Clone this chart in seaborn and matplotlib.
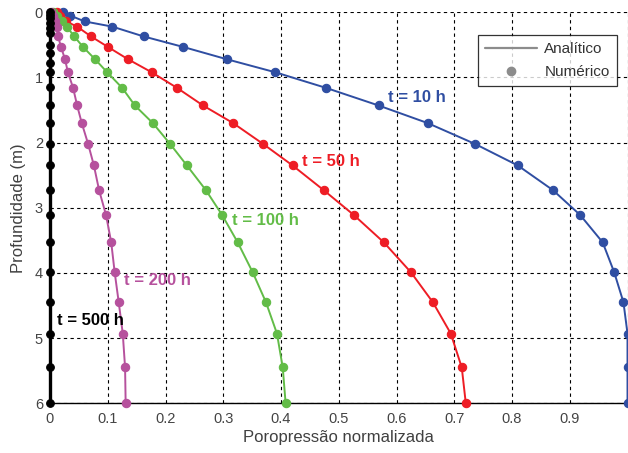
import numpy as np
import pandas as pd
import matplotlib
matplotlib.use("Agg")
import matplotlib.pyplot as plt
from matplotlib.lines import Line2D
import seaborn as sns

# ---- data ----
depth = [0.0, 0.05, 0.14, 0.22, 0.37, 0.53, 0.72, 0.92, 1.16, 1.43, 1.70,
         2.02, 2.35, 2.73, 3.11, 3.53, 3.99, 4.45, 4.93, 5.45, 6.0]
p_10h = [0.022, 0.035, 0.060, 0.108, 0.162, 0.230, 0.306, 0.390, 0.478, 0.569, 0.654,
         0.736, 0.810, 0.871, 0.918, 0.957, 0.977, 0.993, 1.000, 1.000, 1.000]
p_50h = [0.012, 0.018, 0.028, 0.047, 0.071, 0.100, 0.135, 0.176, 0.220, 0.265, 0.317,
         0.369, 0.420, 0.474, 0.526, 0.578, 0.625, 0.663, 0.694, 0.713, 0.720]
p_100h = [0.006, 0.012, 0.020, 0.029, 0.042, 0.057, 0.078, 0.099, 0.125, 0.147, 0.178,
          0.208, 0.237, 0.270, 0.298, 0.325, 0.351, 0.374, 0.393, 0.403, 0.408]
p_200h = [0.002, 0.005, 0.009, 0.012, 0.014, 0.019, 0.026, 0.031, 0.040, 0.047, 0.055,
          0.066, 0.076, 0.085, 0.097, 0.106, 0.112, 0.119, 0.126, 0.130, 0.131]
depth_500h = [0.0, 0.04, 0.09, 0.17, 0.24, 0.32, 0.5, 0.62, 0.78, 0.92, 1.15, 1.43,
              1.7, 2.02, 2.35, 2.73, 3.11, 3.53, 3.99, 4.45, 4.93, 5.45, 6.0]
p_500h = [0.0] * len(depth_500h)

labels = ["t = 10 h", "t = 50 h", "t = 100 h", "t = 200 h", "t = 500 h"]
colors = ["#2F4EA2", "#EE1D25", "#62BC47", "#B6519D", "#000000"]
label_pos = [(0.585, 1.30), (0.436, 2.29), (0.315, 3.20), (0.128, 4.12), (0.012, 4.73)]
xticks = [0, 0.1, 0.2, 0.3, 0.4, 0.5, 0.6, 0.7, 0.8, 0.9, 1.0]
xticklabels = ["0", "0.1", "0.2", "0.3", "0.4", "0.5", "0.6", "0.7", "0.8", "0.9", ""]
yticks = [0, 1, 2, 3, 4, 5, 6]

series = [(depth, p_10h), (depth, p_50h), (depth, p_100h), (depth, p_200h), (depth_500h, p_500h)]

sns.set_theme(style="white")
plt.rcParams["font.family"] = ["Liberation Sans", "DejaVu Sans"]

fig = plt.figure(figsize=(6.28, 4.53), dpi=100)
ax = fig.add_axes([50 / 628, 1 - 403.3 / 453, 577.5 / 628, 391 / 453])

for (z, p), lab, c in zip(series, labels, colors):
    df = pd.DataFrame({"p": p, "z": z})
    lw = 2.4 if c == "#000000" else 1.4
    ms = 5.5 if c == "#000000" else 6.0
    sns.lineplot(data=df, x="p", y="z", sort=False, estimator=None, ax=ax,
                 color=c, lw=lw, marker="o", markersize=ms, markeredgewidth=0.8,
                 markeredgecolor=c, zorder=3, clip_on=False)

for lab, c, (tx, ty) in zip(labels, colors, label_pos):
    ax.text(tx, ty, lab, color=c, fontsize=12, fontweight="bold", ha="left", va="center",
            zorder=5)

ax.set_xlim(0, 1)
ax.set_ylim(6, 0)
ax.set_xticks(xticks)
ax.set_xticklabels(xticklabels)
ax.set_yticks(yticks)
ax.set_yticklabels([str(v) for v in yticks])
ax.tick_params(axis="both", direction="in", length=4, width=0.8, colors="#444444",
               labelsize=10.5)
ax.tick_params(axis="x", pad=6)
ax.tick_params(axis="y", pad=5)
ax.grid(True, color="black", linestyle=(0, (3, 3)), linewidth=0.8)
ax.set_axisbelow(True)
for s in ["top", "right"]:
    ax.spines[s].set_visible(False)
for s in ["left", "bottom"]:
    ax.spines[s].set_color("black")
    ax.spines[s].set_linewidth(1.0)

ax.set_xlabel("Poropressão normalizada", fontsize=12, color="#404040", labelpad=3)
ax.set_ylabel("Profundidade (m)", fontsize=12, color="#404040", labelpad=6)

handles = [Line2D([0], [0], color="#8C8C8C", lw=1.6),
           Line2D([0], [0], color="#8C8C8C", lw=0, marker="o", markersize=6)]
leg = ax.legend(handles, ["Analítico", "Numérico"], loc="upper right",
                bbox_to_anchor=(0.981, 0.942), borderaxespad=0.0, frameon=True,
                fancybox=False, edgecolor="black", fontsize=11, handlelength=3.4,
                borderpad=0.45, labelspacing=0.6, handletextpad=0.5)
leg.get_frame().set_linewidth(0.9)
for t in leg.get_texts():
    t.set_color("#333333")

fig.savefig("out.png", dpi=100)
